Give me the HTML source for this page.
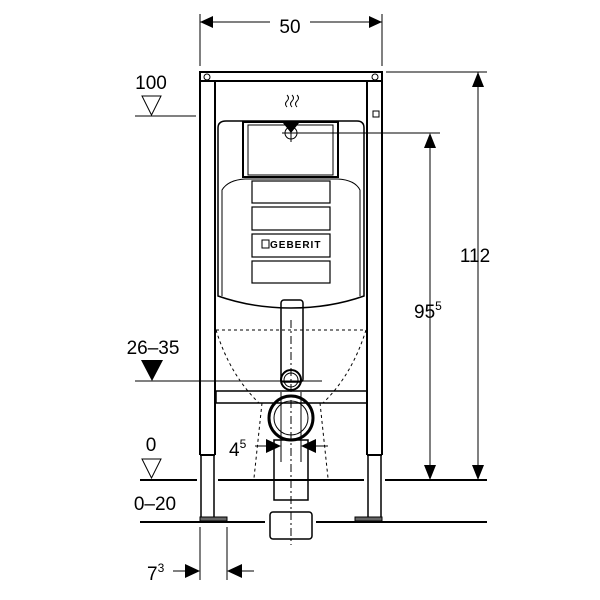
<!DOCTYPE html>
<html><head><meta charset="utf-8"><style>html,body{margin:0;padding:0;background:#fff}svg{display:block}text{font-family:"Liberation Sans",sans-serif;fill:#000}</style></head>
<body>
<svg width="600" height="600" viewBox="0 0 600 600" xmlns="http://www.w3.org/2000/svg">
<rect width="600" height="600" fill="#fff"/>
<g stroke="#000" fill="none">
<line x1="200" y1="14" x2="200" y2="66" stroke-width="1"/>
<line x1="382" y1="14" x2="382" y2="66" stroke-width="1"/>
<line x1="200" y1="22" x2="270" y2="22" stroke-width="1"/>
<line x1="310" y1="22" x2="382" y2="22" stroke-width="1"/>
<rect x="200" y="72" width="182" height="9" stroke-width="2"/>
<line x1="200" y1="72" x2="200" y2="455" stroke-width="2"/>
<line x1="215" y1="81" x2="215" y2="455" stroke-width="2"/>
<line x1="367" y1="81" x2="367" y2="455" stroke-width="2"/>
<line x1="382" y1="72" x2="382" y2="455" stroke-width="2"/>
<line x1="200" y1="455" x2="215" y2="455" stroke-width="2"/>
<line x1="367" y1="455" x2="382" y2="455" stroke-width="2"/>
<rect x="201" y="455" width="13" height="63" stroke-width="1.5"/>
<rect x="368" y="455" width="13" height="63" stroke-width="1.5"/>
<rect x="200" y="517" width="27" height="4" fill="#666" stroke-width="1"/>
<rect x="355" y="517" width="27" height="4" fill="#666" stroke-width="1"/>
<circle cx="207" cy="77" r="3" stroke-width="1"/>
<circle cx="375" cy="77" r="3" stroke-width="1"/>
<path d="M218 296 L218 128 Q218 121 226 121 L357 121 Q364 121 364 128 L364 296 Q330 308 291 308 Q252 308 218 296 Z" stroke-width="1.5"/>
<path d="M222 296 L222 190 Q228 180 245 179 L338 179 Q355 180 360 190 L360 296" stroke-width="1"/>
<rect x="243" y="122" width="95" height="55" stroke-width="2"/>
<rect x="248" y="125" width="85" height="50" stroke-width="1"/>
<rect x="252" y="181" width="78" height="22" stroke-width="1.2"/>
<rect x="252" y="207" width="78" height="23" stroke-width="1.2"/>
<rect x="252" y="234" width="78" height="23" stroke-width="1.2"/>
<rect x="252" y="261" width="78" height="22" stroke-width="1.2"/>
<rect x="262" y="240" width="7" height="8" stroke-width="1"/>
<rect x="373" y="111" width="6" height="6" stroke-width="1"/>
<path d="M287 95 q3 3 0 6 q-3 3 0 6 M292 95 q3 3 0 6 q-3 3 0 6 M297 95 q3 3 0 6 q-3 3 0 6" stroke-width="1"/>
<circle cx="291" cy="133" r="6" stroke-width="1"/>
<line x1="282" y1="133" x2="440" y2="133" stroke-width="1"/>
<line x1="291" y1="124" x2="291" y2="142" stroke-width="1"/>
<rect x="281" y="300" width="22" height="82" rx="3" stroke-width="1.5"/>
<circle cx="291" cy="380" r="10" stroke-width="2"/>
<circle cx="291" cy="380" r="7" stroke-width="1"/>
<rect x="216" y="391" width="151" height="12" stroke-width="1.5"/>
<circle cx="291" cy="418" r="22" stroke-width="3"/>
<circle cx="291" cy="418" r="17" stroke-width="1"/>
<rect x="274" y="440" width="34" height="60" stroke-width="1.5"/>
<line x1="281" y1="392" x2="281" y2="462" stroke-width="1"/>
<line x1="301" y1="392" x2="301" y2="462" stroke-width="1"/>
<rect x="270" y="512" width="42" height="27" rx="3" stroke-width="1.5"/>
<line x1="291" y1="320" x2="291" y2="545" stroke-width="1" stroke-dasharray="8,3,2,3"/>
<g stroke-width="1" stroke-dasharray="3,3">
<line x1="216" y1="330" x2="366" y2="330"/>
<path d="M216 330 Q230 375 259 403"/>
<path d="M366 330 Q352 375 323 403"/>
<line x1="262" y1="403" x2="254" y2="478"/>
<line x1="320" y1="403" x2="328" y2="478"/>
</g>
<line x1="386" y1="72" x2="487" y2="72" stroke-width="1"/>
<line x1="478" y1="72" x2="478" y2="470" stroke-width="1"/>
<line x1="430" y1="140" x2="430" y2="470" stroke-width="1"/>
<line x1="140" y1="480" x2="197" y2="480" stroke-width="2"/>
<line x1="218" y1="480" x2="364" y2="480" stroke-width="2"/>
<line x1="385" y1="480" x2="487" y2="480" stroke-width="2"/>
<line x1="140" y1="522" x2="265" y2="522" stroke-width="2"/>
<line x1="316" y1="522" x2="487" y2="522" stroke-width="2"/>
<line x1="135" y1="116" x2="196" y2="116" stroke-width="1"/>
<line x1="135" y1="381" x2="322" y2="381" stroke-width="1"/>
<line x1="200" y1="527" x2="200" y2="580" stroke-width="1"/>
<line x1="227" y1="527" x2="227" y2="580" stroke-width="1"/>
<line x1="173" y1="571" x2="190" y2="571" stroke-width="1"/>
<line x1="238" y1="571" x2="254" y2="571" stroke-width="1"/>
<line x1="255" y1="446" x2="268" y2="446" stroke-width="1"/>
<line x1="316" y1="446" x2="328" y2="446" stroke-width="1"/>
<path d="M142 96 L161 96 L151.5 115 Z" stroke-width="1"/>
<path d="M142 459 L161 459 L151.5 478 Z" stroke-width="1"/>
</g>
<g fill="#000">
<path d="M200 22 L213 16 L213 28 Z"/>
<path d="M382 22 L369 16 L369 28 Z"/>
<path d="M478 72 L472 87 L484 87 Z"/>
<path d="M478 480 L472 465 L484 465 Z"/>
<path d="M430 133 L424 148 L436 148 Z"/>
<path d="M430 480 L424 465 L436 465 Z"/>
<path d="M283 123 L299 123 L291 133 Z"/>
<path d="M141 360 L163 360 L152 381 Z"/>
<path d="M200 571 L185 564 L185 578 Z"/>
<path d="M227 571 L242 564 L242 578 Z"/>
<path d="M281 446 L266 439 L266 453 Z"/>
<path d="M301 446 L316 439 L316 453 Z"/>
</g>
<text x="290" y="33" font-size="19" text-anchor="middle">50</text>
<text x="151" y="89" font-size="19" text-anchor="middle">100</text>
<text x="153" y="354" font-size="19" text-anchor="middle">26–35</text>
<text x="151" y="451" font-size="19" text-anchor="middle">0</text>
<text x="155" y="510" font-size="19" text-anchor="middle">0–20</text>
<text x="475" y="262" font-size="19" text-anchor="middle">112</text>
<text x="414" y="318" font-size="19">95<tspan font-size="12" dy="-8">5</tspan></text>
<text x="229" y="456" font-size="19">4<tspan font-size="12" dy="-8">5</tspan></text>
<text x="147" y="580" font-size="19">7<tspan font-size="12" dy="-8">3</tspan></text>
<text x="270" y="248" font-size="10" font-weight="bold" letter-spacing="1">GEBERIT</text>
</svg>
</body></html>
